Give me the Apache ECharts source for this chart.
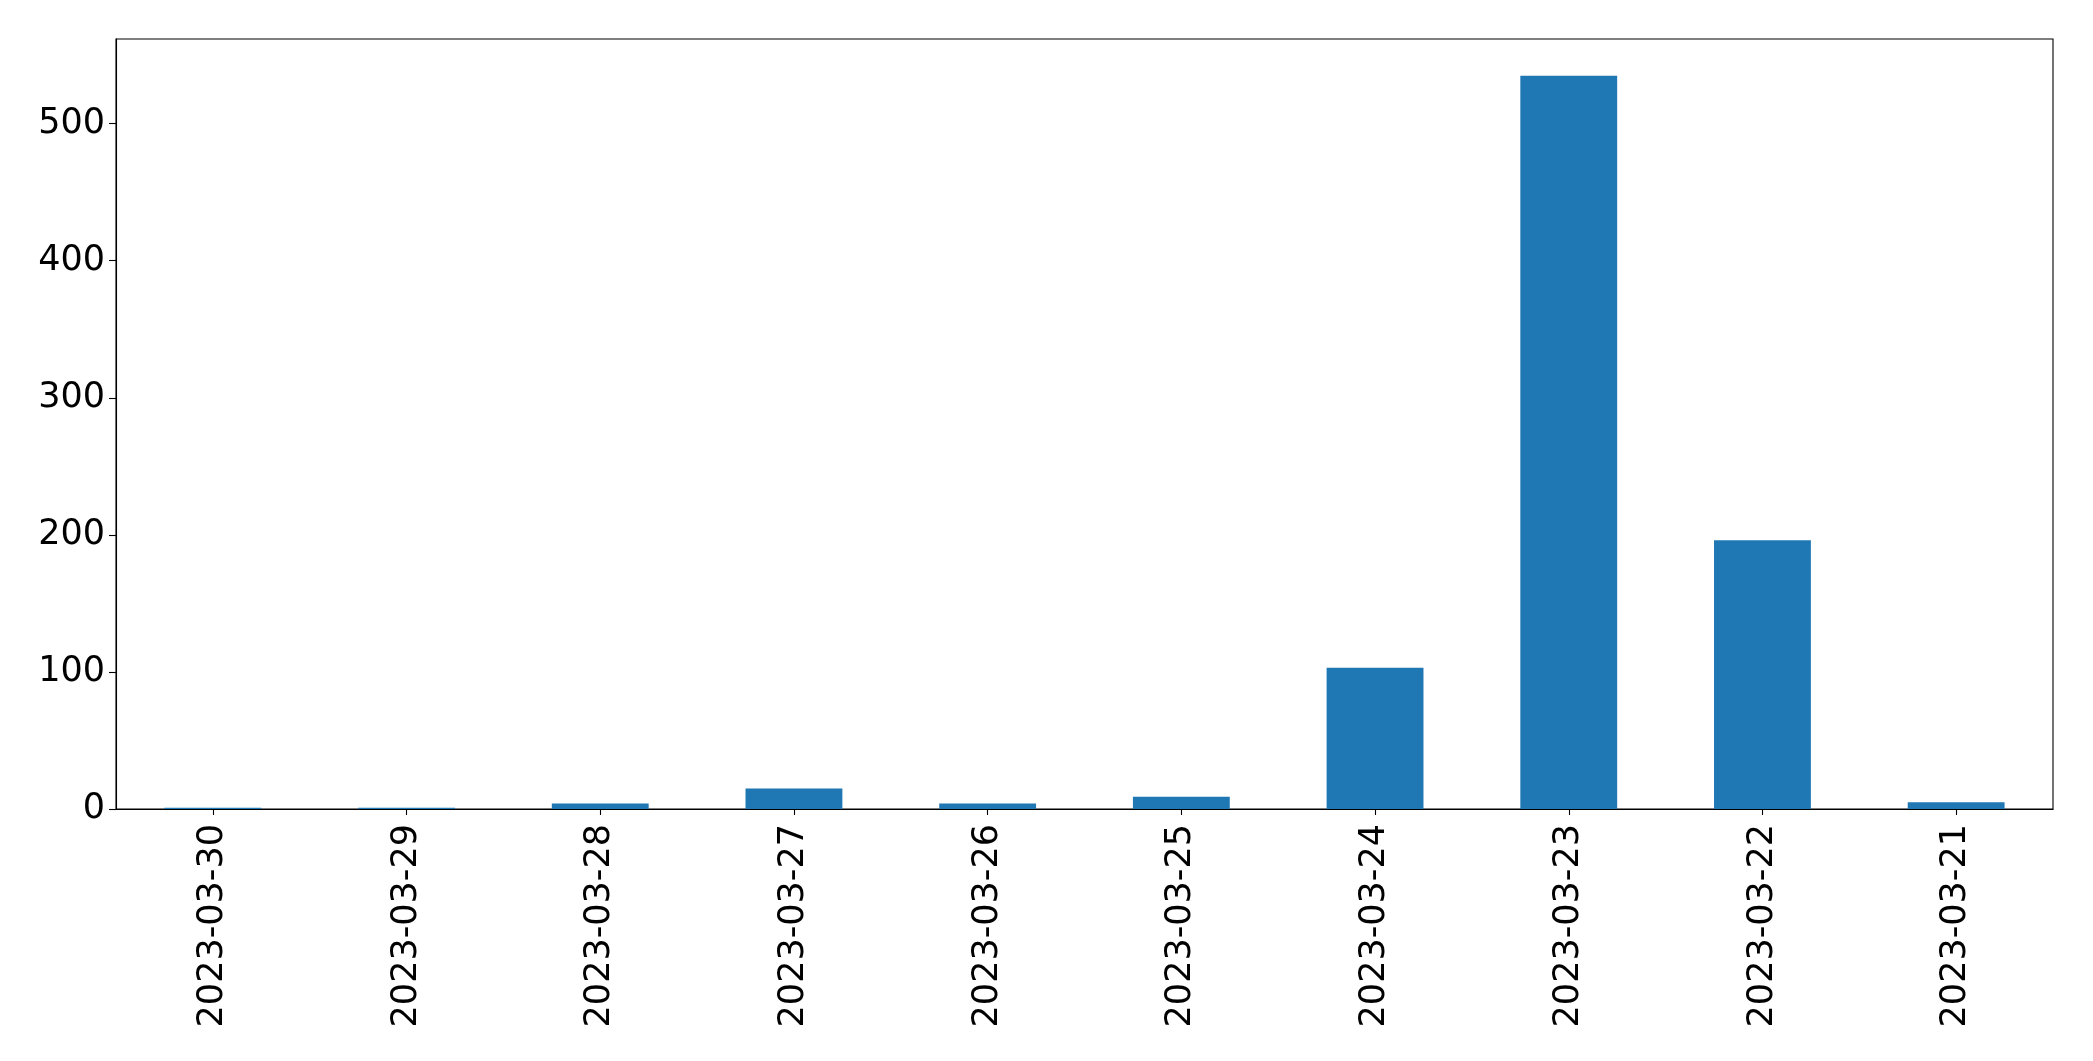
<!DOCTYPE html>
<html>
<head>
<meta charset="utf-8">
<script src="https://cdn.jsdelivr.net/npm/echarts@6/dist/echarts.min.js"></script>
<style>html,body{margin:0;padding:0;background:#fff;}#chart{width:2093px;height:1061px;}</style>
</head>
<body>
<div id="chart"></div>
<script>
const categories = ['2023-03-30','2023-03-29','2023-03-28','2023-03-27','2023-03-26','2023-03-25','2023-03-24','2023-03-23','2023-03-22','2023-03-21'];
const counts = [1, 1, 4, 15, 4, 9, 103, 535, 196, 5];
const yTicks = [0, 100, 200, 300, 400, 500];

const chart = echarts.init(document.getElementById('chart'), null, {renderer: 'canvas'});
const font = 'DejaVu Sans';
chart.setOption({
  animation: false,
  backgroundColor: '#ffffff',
  grid: {left: 116, right: 40, top: 39, bottom: 252, show: true, borderColor: '#000', borderWidth: 1.1, backgroundColor: 'transparent'},
  xAxis: {
    type: 'category',
    data: categories,
    boundaryGap: true,
    axisLine: {show: true, lineStyle: {color: '#000', width: 1.1}},
    axisTick: {show: true, alignWithLabel: true, length: 6, lineStyle: {color: '#000', width: 1.1}},
    axisLabel: {rotate: 90, fontSize: 35, fontFamily: font, color: '#000', margin: 15, interval: 0}
  },
  yAxis: {
    type: 'value',
    min: 0,
    max: 561.75,
    interval: 100,
    splitLine: {show: false},
    axisLine: {show: true, lineStyle: {color: '#000', width: 1.1}},
    axisTick: {show: true, length: 7, lineStyle: {color: '#000', width: 1.1}, customValues: yTicks},
    axisLabel: {fontSize: 35, fontFamily: font, color: '#000', margin: 11, padding: [10, 0, 0, 0], customValues: yTicks}
  },
  series: [{
    type: 'bar',
    data: counts,
    barWidth: '50%',
    itemStyle: {color: '#1f77b4'}
  }]
});
</script>
</body>
</html>
